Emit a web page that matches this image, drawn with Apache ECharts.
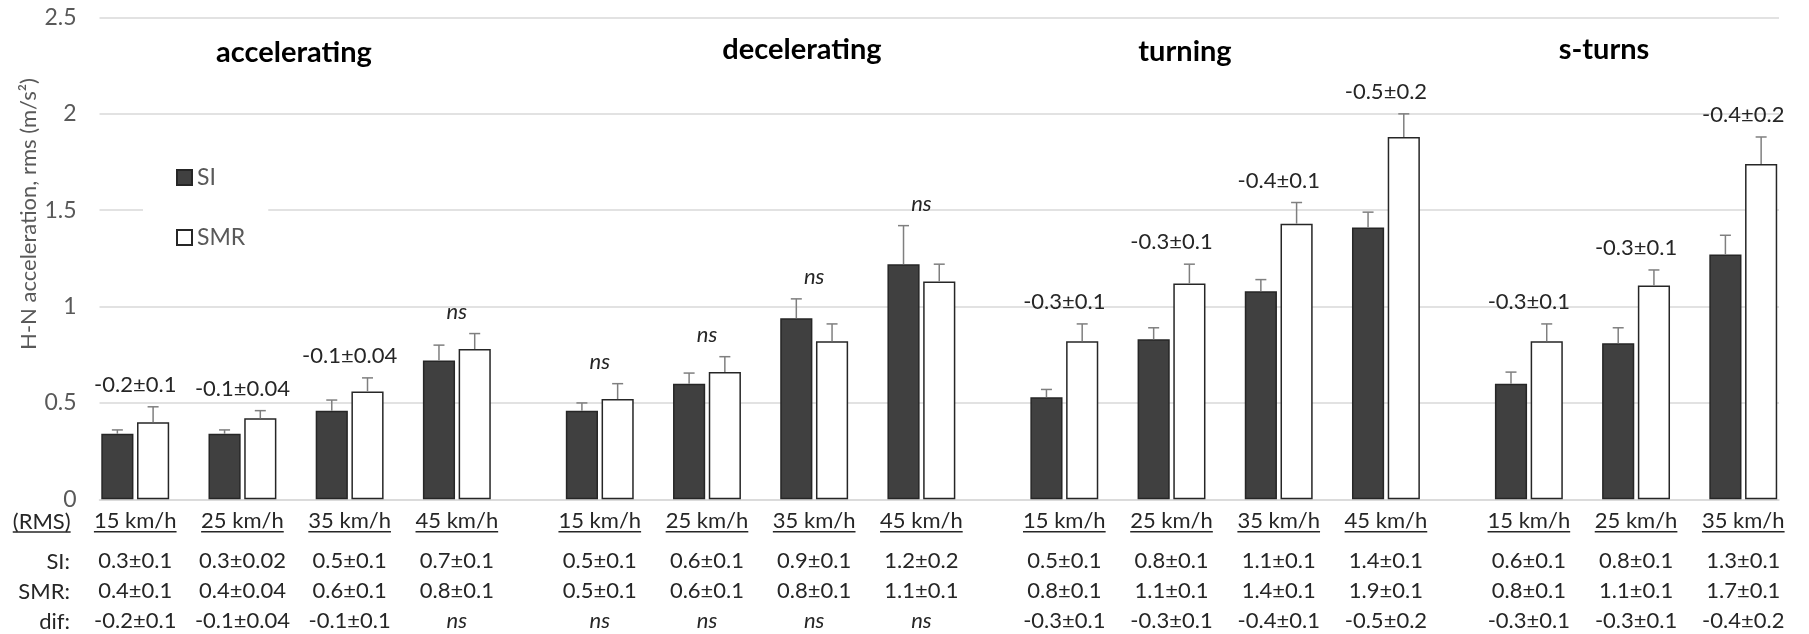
<!DOCTYPE html>
<html><head><meta charset="utf-8">
<script src="https://cdn.jsdelivr.net/npm/echarts@6/dist/echarts.min.js"></script>
<style>html,body{margin:0;padding:0;background:#fff}#c{width:1809px;height:634px}</style>
</head><body><div id="c"></div>
<script>
// ---------- data ----------
const groupNames = ['accelerating', 'decelerating', 'turning', 's-turns'];
const groupSizes = [4, 4, 4, 3];
const speeds = ['15 km/h','25 km/h','35 km/h','45 km/h','15 km/h','25 km/h','35 km/h','45 km/h','15 km/h','25 km/h','35 km/h','45 km/h','15 km/h','25 km/h','35 km/h'];
const siMean  = [0.34, 0.34, 0.46, 0.72, 0.46, 0.60, 0.94, 1.22, 0.53, 0.83, 1.08, 1.41, 0.60, 0.81, 1.27];
const siErr   = [0.02, 0.02, 0.055, 0.08, 0.04, 0.055, 0.10, 0.20, 0.04, 0.06, 0.06, 0.08, 0.06, 0.08, 0.10];
const smrMean = [0.40, 0.42, 0.56, 0.78, 0.52, 0.66, 0.82, 1.13, 0.82, 1.12, 1.43, 1.88, 0.82, 1.11, 1.74];
const smrErr  = [0.08, 0.04, 0.07, 0.08, 0.08, 0.08, 0.09, 0.09, 0.09, 0.10, 0.11, 0.12, 0.09, 0.08, 0.14];
const diffLabels = ['-0.2±0.1','-0.1±0.04','-0.1±0.04','ns','ns','ns','ns','ns','-0.3±0.1','-0.3±0.1','-0.4±0.1','-0.5±0.2','-0.3±0.1','-0.3±0.1','-0.4±0.2'];
const tableSI  = ['0.3±0.1','0.3±0.02','0.5±0.1','0.7±0.1','0.5±0.1','0.6±0.1','0.9±0.1','1.2±0.2','0.5±0.1','0.8±0.1','1.1±0.1','1.4±0.1','0.6±0.1','0.8±0.1','1.3±0.1'];
const tableSMR = ['0.4±0.1','0.4±0.04','0.6±0.1','0.8±0.1','0.5±0.1','0.6±0.1','0.8±0.1','1.1±0.1','0.8±0.1','1.1±0.1','1.4±0.1','1.9±0.1','0.8±0.1','1.1±0.1','1.7±0.1'];
const tableDif = ['-0.2±0.1','-0.1±0.04','-0.1±0.1','ns','ns','ns','ns','ns','-0.3±0.1','-0.3±0.1','-0.4±0.1','-0.5±0.2','-0.3±0.1','-0.3±0.1','-0.4±0.2'];
const rowLabels = ['SI:', 'SMR:', 'dif:'];
const yMin = 0, yMax = 2.5, yStep = 0.5;

// ---------- layout of category slots (each bar has its own slot) ----------
const siSlot = [];
let pos = 0;
groupSizes.forEach(n => { for (let j = 0; j < n; j++) { siSlot.push(pos); pos += 3; } pos += 1; });
const nSlots = siSlot[siSlot.length - 1] + 2;
const cats = Array.from({length: nSlots}, (_, i) => String(i));
const siData = cats.map(() => '-'), smrData = cats.map(() => '-');
siSlot.forEach((s, i) => { siData[s] = siMean[i]; smrData[s + 1] = smrMean[i]; });
const errData = [];
siSlot.forEach((s, i) => { errData.push([s, siMean[i], siErr[i]]); errData.push([s + 1, smrMean[i], smrErr[i]]); });
const annData = siSlot.map((s, i) => [s, Math.max(siMean[i] + siErr[i], smrMean[i] + smrErr[i]), i]);
const tabData = siSlot.map((s, i) => [s, 0, i]);

// ---------- style ----------
const FONT = 'Lato';
const TXT = '#262626';
const GRAY = '#595959';
const measureCtx = document.createElement('canvas').getContext('2d');
function textW(t, size, weight) { measureCtx.font = (weight || 'normal') + ' ' + size + 'px ' + FONT; return measureCtx.measureText(t).width; }
function txt(x, y, t, size, extra) {
  return Object.assign({type: 'text', x: x, y: y, style: Object.assign({text: t, fill: TXT, fontSize: size, fontFamily: FONT,
    fontStyle: t === 'ns' ? 'italic' : 'normal', align: 'center', verticalAlign: 'middle'}, extra || {})});
}
function midX(api, s, y) { return (api.coord([s, y])[0] + api.coord([s + 1, y])[0]) / 2; }

const chart = echarts.init(document.getElementById('c'), null, {renderer: 'canvas'});
const TS = 22;
const titleStyle = {fill: '#000', fontSize: 29, fontWeight: 'bold', fontFamily: FONT, align: 'center', verticalAlign: 'middle'};
chart.setOption({
  backgroundColor: '#fff',
  animation: false,
  grid: {left: 99.5, right: 30, top: 17.5, bottom: 134.7},
  legend: {
    orient: 'vertical', left: 143, top: 146, padding: [20, 23, 20, 33], backgroundColor: '#fff',
    itemWidth: 15, itemHeight: 15, itemGap: 37, icon: 'rect',
    textStyle: {color: GRAY, fontSize: 23, fontFamily: FONT, lineHeight: 15},
    data: ['SI', 'SMR']
  },
  xAxis: {
    type: 'category', data: cats,
    axisLine: {show: true, lineStyle: {color: '#d9d9d9', width: 1.5}},
    axisTick: {show: false}, axisLabel: {show: false}, splitLine: {show: false}
  },
  yAxis: {
    type: 'value', min: yMin, max: yMax, interval: yStep,
    axisLine: {show: false}, axisTick: {show: false},
    axisLabel: {color: GRAY, fontSize: 23, fontFamily: FONT, margin: 23},
    splitLine: {lineStyle: {color: '#d9d9d9', width: 1.5}}
  },
  series: [
    {name: 'SI', type: 'bar', data: siData, barGap: '-100%', barCategoryGap: '10%',
      itemStyle: {color: '#404040', borderColor: '#262626', borderWidth: 1.5}},
    {name: 'SMR', type: 'bar', data: smrData, barGap: '-100%', barCategoryGap: '10%',
      itemStyle: {color: '#ffffff', borderColor: '#262626', borderWidth: 1.5}},
    {name: 'err', type: 'custom', data: errData, z: 5, silent: true,
      encode: {x: 0, y: 1},
      renderItem: function (params, api) {
        const x = api.value(0), m = api.value(1), e = api.value(2);
        const p0 = api.coord([x, m]), p1 = api.coord([x, m + e]);
        const st = {stroke: '#7f7f7f', lineWidth: 1.5};
        return {type: 'group', children: [
          {type: 'line', shape: {x1: p0[0], y1: p0[1], x2: p1[0], y2: p1[1]}, style: st},
          {type: 'line', shape: {x1: p1[0] - 5.5, y1: p1[1], x2: p1[0] + 5.5, y2: p1[1]}, style: st}
        ]};
      }},
    {name: 'diff', type: 'custom', data: annData, z: 6, silent: true,
      encode: {x: 0, y: 1},
      renderItem: function (params, api) {
        const s = api.value(0), top = api.value(1), i = api.value(2);
        const x = midX(api, s, top), y = api.coord([s, top])[1] - 22;
        return txt(x, y, diffLabels[i], TS);
      }},
    {name: 'table', type: 'custom', data: tabData, z: 6, silent: true, clip: false,
      encode: {x: 0, y: 1},
      renderItem: function (params, api) {
        const s = api.value(0), i = api.value(2);
        const x = midX(api, s, 0), y0 = api.coord([s, 0])[1];
        const w = textW(speeds[i], TS);
        return {type: 'group', children: [
          txt(x, y0 + 22, speeds[i], TS),
          {type: 'line', shape: {x1: x - w / 2, y1: y0 + 32.5, x2: x + w / 2, y2: y0 + 32.5}, style: {stroke: TXT, lineWidth: 1.5}},
          txt(x, y0 + 62, tableSI[i], TS),
          txt(x, y0 + 92, tableSMR[i], TS),
          txt(x, y0 + 122, tableDif[i], TS)
        ]};
      }}
  ],
  graphic: [
    {type: 'text', x: 29, y: 214, rotation: Math.PI / 2,
      style: {text: 'H-N acceleration, rms (m/s²)', fill: GRAY, fontSize: 22, fontFamily: FONT, align: 'center', verticalAlign: 'middle'}},
    {type: 'text', x: 294, y: 53, style: Object.assign({text: groupNames[0]}, titleStyle)},
    {type: 'text', x: 802, y: 50, style: Object.assign({text: groupNames[1]}, titleStyle)},
    {type: 'text', x: 1185, y: 52, style: Object.assign({text: groupNames[2]}, titleStyle)},
    {type: 'text', x: 1604, y: 50, style: Object.assign({text: groupNames[3]}, titleStyle)},
    {type: 'text', x: 41.7, y: 522, style: {text: '(RMS)', fill: TXT, fontSize: TS, fontFamily: FONT, align: 'center', verticalAlign: 'middle'}},
    {type: 'line', shape: {x1: 41.7 - textW('(RMS)', TS) / 2, y1: 532, x2: 41.7 + textW('(RMS)', TS) / 2, y2: 532}, style: {stroke: TXT, lineWidth: 1.5}},
    {type: 'text', x: 70, y: 562, style: {text: rowLabels[0], fill: TXT, fontSize: TS, fontFamily: FONT, align: 'right', verticalAlign: 'middle'}},
    {type: 'text', x: 70, y: 592, style: {text: rowLabels[1], fill: TXT, fontSize: TS, fontFamily: FONT, align: 'right', verticalAlign: 'middle'}},
    {type: 'text', x: 70, y: 622, style: {text: rowLabels[2], fill: TXT, fontSize: TS, fontFamily: FONT, align: 'right', verticalAlign: 'middle'}}
  ]
});
</script></body></html>
